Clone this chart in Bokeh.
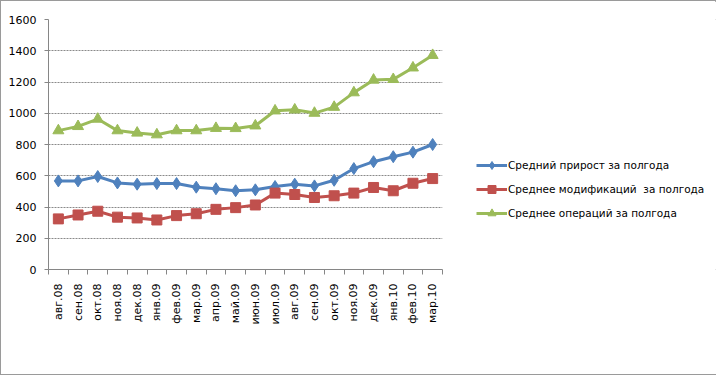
import numpy as np
from bokeh.plotting import figure
from bokeh.layouts import row
from bokeh.models import Range1d, FixedTicker, Legend, LegendItem
from bokeh.embed import file_html
from bokeh.resources import INLINE

months = ["авг.08", "сен.08", "окт.08", "ноя.08", "дек.08", "янв.09", "фев.09", "мар.09",
          "апр.09", "май.09", "июн.09", "июл.09", "авг.09", "сен.09", "окт.09", "ноя.09",
          "дек.09", "янв.10", "фев.10", "мар.10"]
growth = [567, 567, 595, 554, 546, 550, 550, 527, 517, 504, 510, 531, 546, 535, 571, 646, 690, 722, 751, 800]
modifs = [324, 349, 373, 335, 330, 317, 345, 357, 385, 396, 413, 489, 480, 461, 472, 489, 525, 504, 552, 582]
opers = [889, 916, 963, 889, 874, 863, 889, 889, 904, 903, 920, 1016, 1022, 1001, 1039, 1132, 1213, 1217, 1291, 1371]
y_ticks = [0, 200, 400, 600, 800, 1000, 1200, 1400, 1600]
labels = ["Средний прирост за полгода", "Среднее модификаций  за полгода", "Среднее операций за полгода"]

n = len(months)
x = list(np.arange(n) + 0.5)
series = [growth, modifs, opers]

H = 375
PW = 460
LW = 716 - PW
p = figure(width=PW, height=H, output_backend="svg", toolbar_location=None,
           x_range=Range1d(0, n), y_range=Range1d(0, 1600),
           min_border_left=47, min_border_right=PW - 441, min_border_top=18,
           min_border_bottom=H - 270)
p.outline_line_color = None
p.background_fill_color = "white"
p.border_fill_color = "white"

FONT = "DejaVu Sans"
# x axis
p.xaxis.ticker = FixedTicker(ticks=x, minor_ticks=list(range(n + 1)))
p.xaxis.major_label_overrides = {float(v): m for v, m in zip(x, months)}
p.xaxis.major_label_orientation = np.pi / 2
p.xaxis.major_tick_out = 0
p.xaxis.major_tick_in = 0
p.xaxis.minor_tick_out = 5
p.xaxis.minor_tick_in = 0
p.xaxis.minor_tick_line_color = "#868686"
p.xaxis.axis_line_color = "#868686"
p.xaxis.major_label_standoff = 9
p.xaxis.major_label_text_font = FONT
p.xaxis.major_label_text_font_size = "11px"
p.xaxis.major_label_text_color = "black"
p.xgrid.grid_line_color = None

# y axis
p.yaxis.ticker = FixedTicker(ticks=y_ticks, minor_ticks=[])
p.yaxis.major_tick_out = 4
p.yaxis.major_tick_in = 0
p.yaxis.major_tick_line_color = "#868686"
p.yaxis.axis_line_color = "#868686"
p.yaxis.major_label_standoff = 8
p.yaxis.major_label_text_font = FONT
p.yaxis.major_label_text_font_size = "11px"
p.yaxis.major_label_text_color = "black"
p.ygrid.ticker = FixedTicker(ticks=y_ticks)
p.ygrid.grid_line_color = "#8a8a8a"
p.ygrid.grid_line_dash = "2 1"
p.ygrid.grid_line_width = 1

colors = ["#4F81BD", "#C0504D", "#9BBB59"]
markers = ["diamond", "square", "triangle"]
sizes = [12, 10, 11]
for ys, c, mk, sz in zip(series, colors, markers, sizes):
    p.line(x, ys, line_color=c, line_width=3)
    p.scatter(x, ys, marker=mk, size=sz, fill_color=c, line_color=c)

# legend panel (series drawn off-range so only the legend is visible)
q = figure(width=LW, height=H, output_backend="svg", toolbar_location=None,
           x_range=Range1d(-1000, -999), y_range=Range1d(-1000, -999),
           min_border=0, min_border_left=0, min_border_right=0,
           min_border_top=0, min_border_bottom=0)
q.axis.visible = False
q.grid.visible = False
q.outline_line_color = None
q.background_fill_color = "white"
q.border_fill_color = "white"
items = []
for ys, c, mk, sz, lab in zip(series, colors, markers, [10, 8, 9], labels):
    l = q.line(x, ys, line_color=c, line_width=3)
    s = q.scatter(x, ys, marker=mk, size=sz, fill_color=c, line_color=c)
    items.append(LegendItem(label=lab, renderers=[l, s]))
legend = Legend(items=items, location=(15, 46), padding=0, margin=0,
                spacing=4, glyph_width=31, glyph_height=20, label_height=20,
                label_standoff=1, label_text_font=FONT, label_text_font_size="10.5px",
                label_text_color="black", border_line_color=None,
                background_fill_alpha=0)
q.add_layout(legend)

lay = row(p, q)
lay.styles = {"border": "1px solid #9a9a9a", "width": "716px", "height": "375px"}
open("out.html", "w").write(file_html(lay, INLINE))
